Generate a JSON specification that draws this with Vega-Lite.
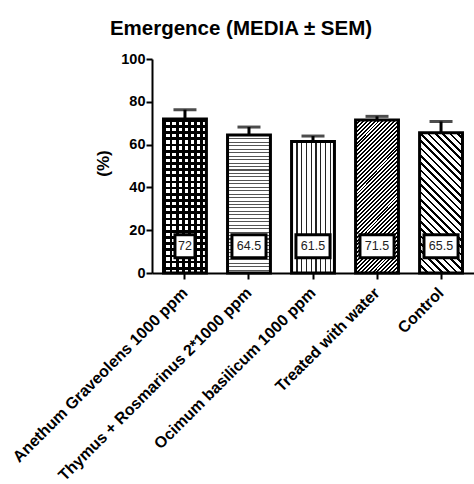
{
  "$schema": "https://vega.github.io/schema/vega-lite/v6.json",
  "autosize": {"type": "none"},
  "padding": {"left": 152, "top": 59, "right": 0, "bottom": 211},
  "width": 322,
  "height": 214,
  "config": {"font": "Liberation Sans", "view": {"stroke": null}, "background": "white"},
  "title": {"text": "Emergence (MEDIA ± SEM)", "fontSize": 20.5, "fontWeight": "bold", "color": "black", "frame": "group", "anchor": "middle", "dx": -72, "offset": 12},
  "data": {"values": [
    {"treatment": "Anethum Graveolens 1000 ppm", "mean": 72, "upper": 76.3},
    {"treatment": "Thymus + Rosmarinus 2*1000 ppm", "mean": 64.5, "upper": 68.2},
    {"treatment": "Ocimum basilicum 1000 ppm", "mean": 61.5, "upper": 64},
    {"treatment": "Treated with water", "mean": 71.5, "upper": 73.2},
    {"treatment": "Control", "mean": 65.5, "upper": 70.8}
  ]},
  "encoding": {
    "x": {"field": "treatment", "type": "nominal", "sort": null,
      "scale": {"paddingInner": 0.33, "paddingOuter": 0.18},
      "axis": {"title": null, "labelAngle": -45, "labelAlign": "right", "labelBaseline": "middle", "labelFontSize": 16, "labelFontWeight": "bold", "labelColor": "black", "labelPadding": 11, "labelLimit": 400, "domainColor": "black", "domainWidth": 2, "tickColor": "black", "tickWidth": 2, "tickSize": 6}},
    "y": {"field": "mean", "type": "quantitative",
      "scale": {"domain": [0, 100]},
      "axis": {"title": "(%)", "values": [0, 20, 40, 60, 80, 100], "grid": false, "labelFontSize": 14.5, "labelFontWeight": "bold", "labelColor": "black", "labelPadding": 1, "titleFontSize": 17, "titleFontWeight": "bold", "titleColor": "black", "titleX": -40, "titleY": 104, "titleAngle": -90, "titleAlign": "center", "titleBaseline": "bottom", "domainColor": "black", "domainWidth": 2, "tickColor": "black", "tickWidth": 2, "tickSize": 6}}
  },
  "layer": [
    {"transform": [{"filter": "datum.treatment == 'Anethum Graveolens 1000 ppm'"}],
     "mark": {"type": "bar", "fill": {"gradient": "linear", "x1": 0, "y1": 0, "x2": 1, "y2": 0, "stops": [
       {"offset": 0, "color": "black"}, {"offset": 0.0643, "color": "black"}, {"offset": 0.0643, "color": "rgba(0,0,0,0)"}, {"offset": 0.1429, "color": "rgba(0,0,0,0)"},
       {"offset": 0.1429, "color": "black"}, {"offset": 0.2072, "color": "black"}, {"offset": 0.2072, "color": "rgba(0,0,0,0)"}, {"offset": 0.2857, "color": "rgba(0,0,0,0)"},
       {"offset": 0.2857, "color": "black"}, {"offset": 0.35, "color": "black"}, {"offset": 0.35, "color": "rgba(0,0,0,0)"}, {"offset": 0.4286, "color": "rgba(0,0,0,0)"},
       {"offset": 0.4286, "color": "black"}, {"offset": 0.4929, "color": "black"}, {"offset": 0.4929, "color": "rgba(0,0,0,0)"}, {"offset": 0.5714, "color": "rgba(0,0,0,0)"},
       {"offset": 0.5714, "color": "black"}, {"offset": 0.6357, "color": "black"}, {"offset": 0.6357, "color": "rgba(0,0,0,0)"}, {"offset": 0.7143, "color": "rgba(0,0,0,0)"},
       {"offset": 0.7143, "color": "black"}, {"offset": 0.7786, "color": "black"}, {"offset": 0.7786, "color": "rgba(0,0,0,0)"}, {"offset": 0.8571, "color": "rgba(0,0,0,0)"},
       {"offset": 0.8571, "color": "black"}, {"offset": 0.9214, "color": "black"}, {"offset": 0.9214, "color": "rgba(0,0,0,0)"}, {"offset": 1, "color": "rgba(0,0,0,0)"}
     ]}}},
    {"transform": [{"filter": "datum.treatment == 'Anethum Graveolens 1000 ppm'"}],
     "mark": {"type": "bar", "fill": {"gradient": "linear", "x1": 0, "y1": 0, "x2": 0, "y2": 1, "stops": [
       {"offset": 0, "color": "black"}, {"offset": 0.018, "color": "black"}, {"offset": 0.018, "color": "rgba(0,0,0,0)"}, {"offset": 0.04, "color": "rgba(0,0,0,0)"},
       {"offset": 0.04, "color": "black"}, {"offset": 0.058, "color": "black"}, {"offset": 0.058, "color": "rgba(0,0,0,0)"}, {"offset": 0.08, "color": "rgba(0,0,0,0)"},
       {"offset": 0.08, "color": "black"}, {"offset": 0.098, "color": "black"}, {"offset": 0.098, "color": "rgba(0,0,0,0)"}, {"offset": 0.12, "color": "rgba(0,0,0,0)"},
       {"offset": 0.12, "color": "black"}, {"offset": 0.138, "color": "black"}, {"offset": 0.138, "color": "rgba(0,0,0,0)"}, {"offset": 0.16, "color": "rgba(0,0,0,0)"},
       {"offset": 0.16, "color": "black"}, {"offset": 0.178, "color": "black"}, {"offset": 0.178, "color": "rgba(0,0,0,0)"}, {"offset": 0.2, "color": "rgba(0,0,0,0)"},
       {"offset": 0.2, "color": "black"}, {"offset": 0.218, "color": "black"}, {"offset": 0.218, "color": "rgba(0,0,0,0)"}, {"offset": 0.24, "color": "rgba(0,0,0,0)"},
       {"offset": 0.24, "color": "black"}, {"offset": 0.258, "color": "black"}, {"offset": 0.258, "color": "rgba(0,0,0,0)"}, {"offset": 0.28, "color": "rgba(0,0,0,0)"},
       {"offset": 0.28, "color": "black"}, {"offset": 0.298, "color": "black"}, {"offset": 0.298, "color": "rgba(0,0,0,0)"}, {"offset": 0.32, "color": "rgba(0,0,0,0)"},
       {"offset": 0.32, "color": "black"}, {"offset": 0.338, "color": "black"}, {"offset": 0.338, "color": "rgba(0,0,0,0)"}, {"offset": 0.36, "color": "rgba(0,0,0,0)"},
       {"offset": 0.36, "color": "black"}, {"offset": 0.378, "color": "black"}, {"offset": 0.378, "color": "rgba(0,0,0,0)"}, {"offset": 0.4, "color": "rgba(0,0,0,0)"},
       {"offset": 0.4, "color": "black"}, {"offset": 0.418, "color": "black"}, {"offset": 0.418, "color": "rgba(0,0,0,0)"}, {"offset": 0.44, "color": "rgba(0,0,0,0)"},
       {"offset": 0.44, "color": "black"}, {"offset": 0.458, "color": "black"}, {"offset": 0.458, "color": "rgba(0,0,0,0)"}, {"offset": 0.48, "color": "rgba(0,0,0,0)"},
       {"offset": 0.48, "color": "black"}, {"offset": 0.498, "color": "black"}, {"offset": 0.498, "color": "rgba(0,0,0,0)"}, {"offset": 0.52, "color": "rgba(0,0,0,0)"},
       {"offset": 0.52, "color": "black"}, {"offset": 0.538, "color": "black"}, {"offset": 0.538, "color": "rgba(0,0,0,0)"}, {"offset": 0.56, "color": "rgba(0,0,0,0)"},
       {"offset": 0.56, "color": "black"}, {"offset": 0.578, "color": "black"}, {"offset": 0.578, "color": "rgba(0,0,0,0)"}, {"offset": 0.6, "color": "rgba(0,0,0,0)"},
       {"offset": 0.6, "color": "black"}, {"offset": 0.618, "color": "black"}, {"offset": 0.618, "color": "rgba(0,0,0,0)"}, {"offset": 0.64, "color": "rgba(0,0,0,0)"},
       {"offset": 0.64, "color": "black"}, {"offset": 0.658, "color": "black"}, {"offset": 0.658, "color": "rgba(0,0,0,0)"}, {"offset": 0.68, "color": "rgba(0,0,0,0)"},
       {"offset": 0.68, "color": "black"}, {"offset": 0.698, "color": "black"}, {"offset": 0.698, "color": "rgba(0,0,0,0)"}, {"offset": 0.72, "color": "rgba(0,0,0,0)"},
       {"offset": 0.72, "color": "black"}, {"offset": 0.738, "color": "black"}, {"offset": 0.738, "color": "rgba(0,0,0,0)"}, {"offset": 0.76, "color": "rgba(0,0,0,0)"},
       {"offset": 0.76, "color": "black"}, {"offset": 0.778, "color": "black"}, {"offset": 0.778, "color": "rgba(0,0,0,0)"}, {"offset": 0.8, "color": "rgba(0,0,0,0)"},
       {"offset": 0.8, "color": "black"}, {"offset": 0.818, "color": "black"}, {"offset": 0.818, "color": "rgba(0,0,0,0)"}, {"offset": 0.84, "color": "rgba(0,0,0,0)"},
       {"offset": 0.84, "color": "black"}, {"offset": 0.858, "color": "black"}, {"offset": 0.858, "color": "rgba(0,0,0,0)"}, {"offset": 0.88, "color": "rgba(0,0,0,0)"},
       {"offset": 0.88, "color": "black"}, {"offset": 0.898, "color": "black"}, {"offset": 0.898, "color": "rgba(0,0,0,0)"}, {"offset": 0.92, "color": "rgba(0,0,0,0)"},
       {"offset": 0.92, "color": "black"}, {"offset": 0.938, "color": "black"}, {"offset": 0.938, "color": "rgba(0,0,0,0)"}, {"offset": 0.96, "color": "rgba(0,0,0,0)"},
       {"offset": 0.96, "color": "black"}, {"offset": 0.978, "color": "black"}, {"offset": 0.978, "color": "rgba(0,0,0,0)"}, {"offset": 1, "color": "rgba(0,0,0,0)"}
     ]}}},
    {"transform": [{"filter": "datum.treatment == 'Thymus + Rosmarinus 2*1000 ppm'"}],
     "mark": {"type": "bar", "fill": {"gradient": "linear", "x1": 0, "y1": 0, "x2": 0, "y2": 1, "stops": [
       {"offset": 0, "color": "#555"}, {"offset": 0.0075, "color": "#555"}, {"offset": 0.0075, "color": "white"}, {"offset": 0.025, "color": "white"},
       {"offset": 0.025, "color": "#555"}, {"offset": 0.0325, "color": "#555"}, {"offset": 0.0325, "color": "white"}, {"offset": 0.05, "color": "white"},
       {"offset": 0.05, "color": "#555"}, {"offset": 0.0575, "color": "#555"}, {"offset": 0.0575, "color": "white"}, {"offset": 0.075, "color": "white"},
       {"offset": 0.075, "color": "#555"}, {"offset": 0.0825, "color": "#555"}, {"offset": 0.0825, "color": "white"}, {"offset": 0.1, "color": "white"},
       {"offset": 0.1, "color": "#555"}, {"offset": 0.1075, "color": "#555"}, {"offset": 0.1075, "color": "white"}, {"offset": 0.125, "color": "white"},
       {"offset": 0.125, "color": "#555"}, {"offset": 0.1325, "color": "#555"}, {"offset": 0.1325, "color": "white"}, {"offset": 0.15, "color": "white"},
       {"offset": 0.15, "color": "#555"}, {"offset": 0.1575, "color": "#555"}, {"offset": 0.1575, "color": "white"}, {"offset": 0.175, "color": "white"},
       {"offset": 0.175, "color": "#555"}, {"offset": 0.1825, "color": "#555"}, {"offset": 0.1825, "color": "white"}, {"offset": 0.2, "color": "white"},
       {"offset": 0.2, "color": "#555"}, {"offset": 0.2075, "color": "#555"}, {"offset": 0.2075, "color": "white"}, {"offset": 0.225, "color": "white"},
       {"offset": 0.225, "color": "#555"}, {"offset": 0.2325, "color": "#555"}, {"offset": 0.2325, "color": "white"}, {"offset": 0.25, "color": "white"},
       {"offset": 0.25, "color": "#555"}, {"offset": 0.2575, "color": "#555"}, {"offset": 0.2575, "color": "white"}, {"offset": 0.275, "color": "white"},
       {"offset": 0.275, "color": "#555"}, {"offset": 0.2825, "color": "#555"}, {"offset": 0.2825, "color": "white"}, {"offset": 0.3, "color": "white"},
       {"offset": 0.3, "color": "#555"}, {"offset": 0.3075, "color": "#555"}, {"offset": 0.3075, "color": "white"}, {"offset": 0.325, "color": "white"},
       {"offset": 0.325, "color": "#555"}, {"offset": 0.3325, "color": "#555"}, {"offset": 0.3325, "color": "white"}, {"offset": 0.35, "color": "white"},
       {"offset": 0.35, "color": "#555"}, {"offset": 0.3575, "color": "#555"}, {"offset": 0.3575, "color": "white"}, {"offset": 0.375, "color": "white"},
       {"offset": 0.375, "color": "#555"}, {"offset": 0.3825, "color": "#555"}, {"offset": 0.3825, "color": "white"}, {"offset": 0.4, "color": "white"},
       {"offset": 0.4, "color": "#555"}, {"offset": 0.4075, "color": "#555"}, {"offset": 0.4075, "color": "white"}, {"offset": 0.425, "color": "white"},
       {"offset": 0.425, "color": "#555"}, {"offset": 0.4325, "color": "#555"}, {"offset": 0.4325, "color": "white"}, {"offset": 0.45, "color": "white"},
       {"offset": 0.45, "color": "#555"}, {"offset": 0.4575, "color": "#555"}, {"offset": 0.4575, "color": "white"}, {"offset": 0.475, "color": "white"},
       {"offset": 0.475, "color": "#555"}, {"offset": 0.4825, "color": "#555"}, {"offset": 0.4825, "color": "white"}, {"offset": 0.5, "color": "white"},
       {"offset": 0.5, "color": "#555"}, {"offset": 0.5075, "color": "#555"}, {"offset": 0.5075, "color": "white"}, {"offset": 0.525, "color": "white"},
       {"offset": 0.525, "color": "#555"}, {"offset": 0.5325, "color": "#555"}, {"offset": 0.5325, "color": "white"}, {"offset": 0.55, "color": "white"},
       {"offset": 0.55, "color": "#555"}, {"offset": 0.5575, "color": "#555"}, {"offset": 0.5575, "color": "white"}, {"offset": 0.575, "color": "white"},
       {"offset": 0.575, "color": "#555"}, {"offset": 0.5825, "color": "#555"}, {"offset": 0.5825, "color": "white"}, {"offset": 0.6, "color": "white"},
       {"offset": 0.6, "color": "#555"}, {"offset": 0.6075, "color": "#555"}, {"offset": 0.6075, "color": "white"}, {"offset": 0.625, "color": "white"},
       {"offset": 0.625, "color": "#555"}, {"offset": 0.6325, "color": "#555"}, {"offset": 0.6325, "color": "white"}, {"offset": 0.65, "color": "white"},
       {"offset": 0.65, "color": "#555"}, {"offset": 0.6575, "color": "#555"}, {"offset": 0.6575, "color": "white"}, {"offset": 0.675, "color": "white"},
       {"offset": 0.675, "color": "#555"}, {"offset": 0.6825, "color": "#555"}, {"offset": 0.6825, "color": "white"}, {"offset": 0.7, "color": "white"},
       {"offset": 0.7, "color": "#555"}, {"offset": 0.7075, "color": "#555"}, {"offset": 0.7075, "color": "white"}, {"offset": 0.725, "color": "white"},
       {"offset": 0.725, "color": "#555"}, {"offset": 0.7325, "color": "#555"}, {"offset": 0.7325, "color": "white"}, {"offset": 0.75, "color": "white"},
       {"offset": 0.75, "color": "#555"}, {"offset": 0.7575, "color": "#555"}, {"offset": 0.7575, "color": "white"}, {"offset": 0.775, "color": "white"},
       {"offset": 0.775, "color": "#555"}, {"offset": 0.7825, "color": "#555"}, {"offset": 0.7825, "color": "white"}, {"offset": 0.8, "color": "white"},
       {"offset": 0.8, "color": "#555"}, {"offset": 0.8075, "color": "#555"}, {"offset": 0.8075, "color": "white"}, {"offset": 0.825, "color": "white"},
       {"offset": 0.825, "color": "#555"}, {"offset": 0.8325, "color": "#555"}, {"offset": 0.8325, "color": "white"}, {"offset": 0.85, "color": "white"},
       {"offset": 0.85, "color": "#555"}, {"offset": 0.8575, "color": "#555"}, {"offset": 0.8575, "color": "white"}, {"offset": 0.875, "color": "white"},
       {"offset": 0.875, "color": "#555"}, {"offset": 0.8825, "color": "#555"}, {"offset": 0.8825, "color": "white"}, {"offset": 0.9, "color": "white"},
       {"offset": 0.9, "color": "#555"}, {"offset": 0.9075, "color": "#555"}, {"offset": 0.9075, "color": "white"}, {"offset": 0.925, "color": "white"},
       {"offset": 0.925, "color": "#555"}, {"offset": 0.9325, "color": "#555"}, {"offset": 0.9325, "color": "white"}, {"offset": 0.95, "color": "white"},
       {"offset": 0.95, "color": "#555"}, {"offset": 0.9575, "color": "#555"}, {"offset": 0.9575, "color": "white"}, {"offset": 0.975, "color": "white"},
       {"offset": 0.975, "color": "#555"}, {"offset": 0.9825, "color": "#555"}, {"offset": 0.9825, "color": "white"}, {"offset": 1, "color": "white"}
     ]}}},
    {"transform": [{"filter": "datum.treatment == 'Ocimum basilicum 1000 ppm'"}],
     "mark": {"type": "bar", "fill": {"gradient": "linear", "x1": 0, "y1": 0, "x2": 1, "y2": 0, "stops": [
       {"offset": 0, "color": "#222"}, {"offset": 0.031, "color": "#222"}, {"offset": 0.031, "color": "white"}, {"offset": 0.1111, "color": "white"},
       {"offset": 0.1111, "color": "#222"}, {"offset": 0.1421, "color": "#222"}, {"offset": 0.1421, "color": "white"}, {"offset": 0.2222, "color": "white"},
       {"offset": 0.2222, "color": "#222"}, {"offset": 0.2532, "color": "#222"}, {"offset": 0.2532, "color": "white"}, {"offset": 0.3333, "color": "white"},
       {"offset": 0.3333, "color": "#222"}, {"offset": 0.3643, "color": "#222"}, {"offset": 0.3643, "color": "white"}, {"offset": 0.4444, "color": "white"},
       {"offset": 0.4444, "color": "#222"}, {"offset": 0.4754, "color": "#222"}, {"offset": 0.4754, "color": "white"}, {"offset": 0.5556, "color": "white"},
       {"offset": 0.5556, "color": "#222"}, {"offset": 0.5866, "color": "#222"}, {"offset": 0.5866, "color": "white"}, {"offset": 0.6667, "color": "white"},
       {"offset": 0.6667, "color": "#222"}, {"offset": 0.6977, "color": "#222"}, {"offset": 0.6977, "color": "white"}, {"offset": 0.7778, "color": "white"},
       {"offset": 0.7778, "color": "#222"}, {"offset": 0.8088, "color": "#222"}, {"offset": 0.8088, "color": "white"}, {"offset": 0.8889, "color": "white"},
       {"offset": 0.8889, "color": "#222"}, {"offset": 0.9199, "color": "#222"}, {"offset": 0.9199, "color": "white"}, {"offset": 1, "color": "white"}
     ]}}},
    {"transform": [{"filter": "datum.treatment == 'Treated with water'"}],
     "mark": {"type": "bar", "fill": {"gradient": "linear", "x1": 0, "y1": 0, "x2": 0.334, "y2": 1.187, "stops": [
       {"offset": 0, "color": "black"}, {"offset": 0.01, "color": "black"}, {"offset": 0.01, "color": "white"}, {"offset": 0.02, "color": "white"},
       {"offset": 0.02, "color": "black"}, {"offset": 0.03, "color": "black"}, {"offset": 0.03, "color": "white"}, {"offset": 0.04, "color": "white"},
       {"offset": 0.04, "color": "black"}, {"offset": 0.05, "color": "black"}, {"offset": 0.05, "color": "white"}, {"offset": 0.06, "color": "white"},
       {"offset": 0.06, "color": "black"}, {"offset": 0.07, "color": "black"}, {"offset": 0.07, "color": "white"}, {"offset": 0.08, "color": "white"},
       {"offset": 0.08, "color": "black"}, {"offset": 0.09, "color": "black"}, {"offset": 0.09, "color": "white"}, {"offset": 0.1, "color": "white"},
       {"offset": 0.1, "color": "black"}, {"offset": 0.11, "color": "black"}, {"offset": 0.11, "color": "white"}, {"offset": 0.12, "color": "white"},
       {"offset": 0.12, "color": "black"}, {"offset": 0.13, "color": "black"}, {"offset": 0.13, "color": "white"}, {"offset": 0.14, "color": "white"},
       {"offset": 0.14, "color": "black"}, {"offset": 0.15, "color": "black"}, {"offset": 0.15, "color": "white"}, {"offset": 0.16, "color": "white"},
       {"offset": 0.16, "color": "black"}, {"offset": 0.17, "color": "black"}, {"offset": 0.17, "color": "white"}, {"offset": 0.18, "color": "white"},
       {"offset": 0.18, "color": "black"}, {"offset": 0.19, "color": "black"}, {"offset": 0.19, "color": "white"}, {"offset": 0.2, "color": "white"},
       {"offset": 0.2, "color": "black"}, {"offset": 0.21, "color": "black"}, {"offset": 0.21, "color": "white"}, {"offset": 0.22, "color": "white"},
       {"offset": 0.22, "color": "black"}, {"offset": 0.23, "color": "black"}, {"offset": 0.23, "color": "white"}, {"offset": 0.24, "color": "white"},
       {"offset": 0.24, "color": "black"}, {"offset": 0.25, "color": "black"}, {"offset": 0.25, "color": "white"}, {"offset": 0.26, "color": "white"},
       {"offset": 0.26, "color": "black"}, {"offset": 0.27, "color": "black"}, {"offset": 0.27, "color": "white"}, {"offset": 0.28, "color": "white"},
       {"offset": 0.28, "color": "black"}, {"offset": 0.29, "color": "black"}, {"offset": 0.29, "color": "white"}, {"offset": 0.3, "color": "white"},
       {"offset": 0.3, "color": "black"}, {"offset": 0.31, "color": "black"}, {"offset": 0.31, "color": "white"}, {"offset": 0.32, "color": "white"},
       {"offset": 0.32, "color": "black"}, {"offset": 0.33, "color": "black"}, {"offset": 0.33, "color": "white"}, {"offset": 0.34, "color": "white"},
       {"offset": 0.34, "color": "black"}, {"offset": 0.35, "color": "black"}, {"offset": 0.35, "color": "white"}, {"offset": 0.36, "color": "white"},
       {"offset": 0.36, "color": "black"}, {"offset": 0.37, "color": "black"}, {"offset": 0.37, "color": "white"}, {"offset": 0.38, "color": "white"},
       {"offset": 0.38, "color": "black"}, {"offset": 0.39, "color": "black"}, {"offset": 0.39, "color": "white"}, {"offset": 0.4, "color": "white"},
       {"offset": 0.4, "color": "black"}, {"offset": 0.41, "color": "black"}, {"offset": 0.41, "color": "white"}, {"offset": 0.42, "color": "white"},
       {"offset": 0.42, "color": "black"}, {"offset": 0.43, "color": "black"}, {"offset": 0.43, "color": "white"}, {"offset": 0.44, "color": "white"},
       {"offset": 0.44, "color": "black"}, {"offset": 0.45, "color": "black"}, {"offset": 0.45, "color": "white"}, {"offset": 0.46, "color": "white"},
       {"offset": 0.46, "color": "black"}, {"offset": 0.47, "color": "black"}, {"offset": 0.47, "color": "white"}, {"offset": 0.48, "color": "white"},
       {"offset": 0.48, "color": "black"}, {"offset": 0.49, "color": "black"}, {"offset": 0.49, "color": "white"}, {"offset": 0.5, "color": "white"},
       {"offset": 0.5, "color": "black"}, {"offset": 0.51, "color": "black"}, {"offset": 0.51, "color": "white"}, {"offset": 0.52, "color": "white"},
       {"offset": 0.52, "color": "black"}, {"offset": 0.53, "color": "black"}, {"offset": 0.53, "color": "white"}, {"offset": 0.54, "color": "white"},
       {"offset": 0.54, "color": "black"}, {"offset": 0.55, "color": "black"}, {"offset": 0.55, "color": "white"}, {"offset": 0.56, "color": "white"},
       {"offset": 0.56, "color": "black"}, {"offset": 0.57, "color": "black"}, {"offset": 0.57, "color": "white"}, {"offset": 0.58, "color": "white"},
       {"offset": 0.58, "color": "black"}, {"offset": 0.59, "color": "black"}, {"offset": 0.59, "color": "white"}, {"offset": 0.6, "color": "white"},
       {"offset": 0.6, "color": "black"}, {"offset": 0.61, "color": "black"}, {"offset": 0.61, "color": "white"}, {"offset": 0.62, "color": "white"},
       {"offset": 0.62, "color": "black"}, {"offset": 0.63, "color": "black"}, {"offset": 0.63, "color": "white"}, {"offset": 0.64, "color": "white"},
       {"offset": 0.64, "color": "black"}, {"offset": 0.65, "color": "black"}, {"offset": 0.65, "color": "white"}, {"offset": 0.66, "color": "white"},
       {"offset": 0.66, "color": "black"}, {"offset": 0.67, "color": "black"}, {"offset": 0.67, "color": "white"}, {"offset": 0.68, "color": "white"},
       {"offset": 0.68, "color": "black"}, {"offset": 0.69, "color": "black"}, {"offset": 0.69, "color": "white"}, {"offset": 0.7, "color": "white"},
       {"offset": 0.7, "color": "black"}, {"offset": 0.71, "color": "black"}, {"offset": 0.71, "color": "white"}, {"offset": 0.72, "color": "white"},
       {"offset": 0.72, "color": "black"}, {"offset": 0.73, "color": "black"}, {"offset": 0.73, "color": "white"}, {"offset": 0.74, "color": "white"},
       {"offset": 0.74, "color": "black"}, {"offset": 0.75, "color": "black"}, {"offset": 0.75, "color": "white"}, {"offset": 0.76, "color": "white"},
       {"offset": 0.76, "color": "black"}, {"offset": 0.77, "color": "black"}, {"offset": 0.77, "color": "white"}, {"offset": 0.78, "color": "white"},
       {"offset": 0.78, "color": "black"}, {"offset": 0.79, "color": "black"}, {"offset": 0.79, "color": "white"}, {"offset": 0.8, "color": "white"},
       {"offset": 0.8, "color": "black"}, {"offset": 0.81, "color": "black"}, {"offset": 0.81, "color": "white"}, {"offset": 0.82, "color": "white"},
       {"offset": 0.82, "color": "black"}, {"offset": 0.83, "color": "black"}, {"offset": 0.83, "color": "white"}, {"offset": 0.84, "color": "white"},
       {"offset": 0.84, "color": "black"}, {"offset": 0.85, "color": "black"}, {"offset": 0.85, "color": "white"}, {"offset": 0.86, "color": "white"},
       {"offset": 0.86, "color": "black"}, {"offset": 0.87, "color": "black"}, {"offset": 0.87, "color": "white"}, {"offset": 0.88, "color": "white"},
       {"offset": 0.88, "color": "black"}, {"offset": 0.89, "color": "black"}, {"offset": 0.89, "color": "white"}, {"offset": 0.9, "color": "white"},
       {"offset": 0.9, "color": "black"}, {"offset": 0.91, "color": "black"}, {"offset": 0.91, "color": "white"}, {"offset": 0.92, "color": "white"},
       {"offset": 0.92, "color": "black"}, {"offset": 0.93, "color": "black"}, {"offset": 0.93, "color": "white"}, {"offset": 0.94, "color": "white"},
       {"offset": 0.94, "color": "black"}, {"offset": 0.95, "color": "black"}, {"offset": 0.95, "color": "white"}, {"offset": 0.96, "color": "white"},
       {"offset": 0.96, "color": "black"}, {"offset": 0.97, "color": "black"}, {"offset": 0.97, "color": "white"}, {"offset": 0.98, "color": "white"},
       {"offset": 0.98, "color": "black"}, {"offset": 0.99, "color": "black"}, {"offset": 0.99, "color": "white"}, {"offset": 1, "color": "white"}
     ]}}},
    {"transform": [{"filter": "datum.treatment == 'Control'"}],
     "mark": {"type": "bar", "fill": {"gradient": "linear", "x1": 0, "y1": 1, "x2": 0.367, "y2": -0.195, "stops": [
       {"offset": 0, "color": "black"}, {"offset": 0.015, "color": "black"}, {"offset": 0.015, "color": "white"}, {"offset": 0.04, "color": "white"},
       {"offset": 0.04, "color": "black"}, {"offset": 0.055, "color": "black"}, {"offset": 0.055, "color": "white"}, {"offset": 0.08, "color": "white"},
       {"offset": 0.08, "color": "black"}, {"offset": 0.095, "color": "black"}, {"offset": 0.095, "color": "white"}, {"offset": 0.12, "color": "white"},
       {"offset": 0.12, "color": "black"}, {"offset": 0.135, "color": "black"}, {"offset": 0.135, "color": "white"}, {"offset": 0.16, "color": "white"},
       {"offset": 0.16, "color": "black"}, {"offset": 0.175, "color": "black"}, {"offset": 0.175, "color": "white"}, {"offset": 0.2, "color": "white"},
       {"offset": 0.2, "color": "black"}, {"offset": 0.215, "color": "black"}, {"offset": 0.215, "color": "white"}, {"offset": 0.24, "color": "white"},
       {"offset": 0.24, "color": "black"}, {"offset": 0.255, "color": "black"}, {"offset": 0.255, "color": "white"}, {"offset": 0.28, "color": "white"},
       {"offset": 0.28, "color": "black"}, {"offset": 0.295, "color": "black"}, {"offset": 0.295, "color": "white"}, {"offset": 0.32, "color": "white"},
       {"offset": 0.32, "color": "black"}, {"offset": 0.335, "color": "black"}, {"offset": 0.335, "color": "white"}, {"offset": 0.36, "color": "white"},
       {"offset": 0.36, "color": "black"}, {"offset": 0.375, "color": "black"}, {"offset": 0.375, "color": "white"}, {"offset": 0.4, "color": "white"},
       {"offset": 0.4, "color": "black"}, {"offset": 0.415, "color": "black"}, {"offset": 0.415, "color": "white"}, {"offset": 0.44, "color": "white"},
       {"offset": 0.44, "color": "black"}, {"offset": 0.455, "color": "black"}, {"offset": 0.455, "color": "white"}, {"offset": 0.48, "color": "white"},
       {"offset": 0.48, "color": "black"}, {"offset": 0.495, "color": "black"}, {"offset": 0.495, "color": "white"}, {"offset": 0.52, "color": "white"},
       {"offset": 0.52, "color": "black"}, {"offset": 0.535, "color": "black"}, {"offset": 0.535, "color": "white"}, {"offset": 0.56, "color": "white"},
       {"offset": 0.56, "color": "black"}, {"offset": 0.575, "color": "black"}, {"offset": 0.575, "color": "white"}, {"offset": 0.6, "color": "white"},
       {"offset": 0.6, "color": "black"}, {"offset": 0.615, "color": "black"}, {"offset": 0.615, "color": "white"}, {"offset": 0.64, "color": "white"},
       {"offset": 0.64, "color": "black"}, {"offset": 0.655, "color": "black"}, {"offset": 0.655, "color": "white"}, {"offset": 0.68, "color": "white"},
       {"offset": 0.68, "color": "black"}, {"offset": 0.695, "color": "black"}, {"offset": 0.695, "color": "white"}, {"offset": 0.72, "color": "white"},
       {"offset": 0.72, "color": "black"}, {"offset": 0.735, "color": "black"}, {"offset": 0.735, "color": "white"}, {"offset": 0.76, "color": "white"},
       {"offset": 0.76, "color": "black"}, {"offset": 0.775, "color": "black"}, {"offset": 0.775, "color": "white"}, {"offset": 0.8, "color": "white"},
       {"offset": 0.8, "color": "black"}, {"offset": 0.815, "color": "black"}, {"offset": 0.815, "color": "white"}, {"offset": 0.84, "color": "white"},
       {"offset": 0.84, "color": "black"}, {"offset": 0.855, "color": "black"}, {"offset": 0.855, "color": "white"}, {"offset": 0.88, "color": "white"},
       {"offset": 0.88, "color": "black"}, {"offset": 0.895, "color": "black"}, {"offset": 0.895, "color": "white"}, {"offset": 0.92, "color": "white"},
       {"offset": 0.92, "color": "black"}, {"offset": 0.935, "color": "black"}, {"offset": 0.935, "color": "white"}, {"offset": 0.96, "color": "white"},
       {"offset": 0.96, "color": "black"}, {"offset": 0.975, "color": "black"}, {"offset": 0.975, "color": "white"}, {"offset": 1, "color": "white"}
     ]}}},
    {"mark": {"type": "rule", "color": "black", "strokeWidth": 3},
     "encoding": {"y2": {"field": "upper"}}},
    {"mark": {"type": "tick", "color": "black", "thickness": 3, "size": 23},
     "encoding": {"y": {"field": "upper", "type": "quantitative"}}},
    {"mark": {"type": "bar", "fillOpacity": 0, "stroke": "black", "strokeWidth": 3}},
    {"mark": {"type": "point", "filled": true, "fill": "white", "fillOpacity": 1, "stroke": "black", "strokeWidth": 3, "strokeOpacity": 1, "size": 484},
     "encoding": {
       "y": {"datum": 12.5, "type": "quantitative"},
       "shape": {"condition": {"test": "datum.mean % 1 == 0", "value": "M-0.91,-1.05H0.91V1.05H-0.91Z"}, "value": "M-1.55,-1.05H1.55V1.05H-1.55Z"}}},
    {"mark": {"type": "text", "fontSize": 12.5, "color": "#222", "align": "center", "baseline": "middle"},
     "encoding": {
       "y": {"datum": 12.5, "type": "quantitative"},
       "text": {"field": "mean", "type": "quantitative"}}}
  ]
}
